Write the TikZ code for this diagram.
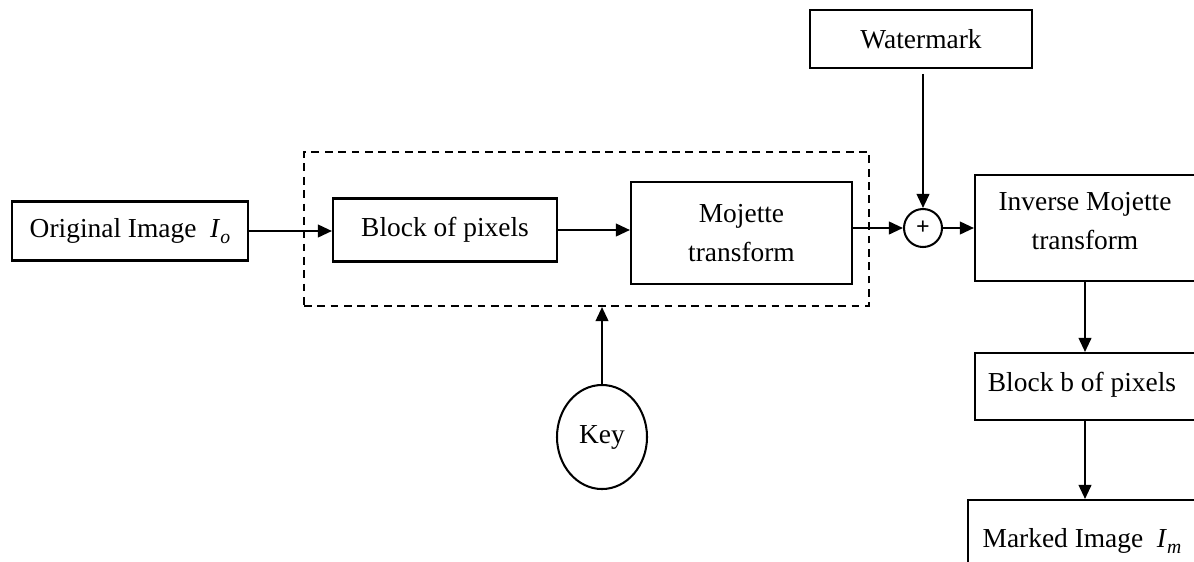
\documentclass[tikz,border=0pt]{standalone}
\usepackage{fontspec}
\setmainfont{Liberation Serif}
\usetikzlibrary{arrows.meta,shapes.geometric}
\newcommand{\mysub}[1]{\raisebox{-0.45ex}{\fontsize{14}{14}\selectfont\textit{#1}}}
\begin{document}
\begin{tikzpicture}[x=0.025cm,y=-0.025cm,
  line width=1.45pt,
  every node/.style={font=\fontsize{19.5}{28}\selectfont},
  box/.style={draw,rectangle,inner sep=0pt},
  arr/.style={-{Triangle[length=10pt,width=9pt]}},
  dashbox/.style={draw,rectangle,inner sep=0pt,dash pattern=on 5.5pt off 4pt}]
\useasboundingbox (0,0) rectangle (1194,561);
\clip (0,0) rectangle (1194,561);
\node[box,minimum width=5.9cm,minimum height=1.475cm] (orig) at (130,231) {Original Image\ \ \textit{I}\mysub{o}};
\node[dashbox,minimum width=14.125cm,minimum height=3.85cm] (grp) at (586.5,229) {};
\node[box,minimum width=5.6cm,minimum height=1.575cm] (block) at (445,230) {Block of pixels};
\node[box,minimum width=5.525cm,minimum height=2.55cm,align=center] (moj) at (741.5,233) {Mojette\\transform};
\node[draw,circle,minimum size=0.95cm,inner sep=0pt,font=\fontsize{17}{17}\selectfont\bfseries] (plus) at (923,228) {+};
\node[box,minimum width=5.55cm,minimum height=1.45cm] (wm) at (921,39) {Watermark};
\node[box,minimum width=5.875cm,minimum height=2.65cm] (inv) at (1092.5,228) {};
\node[align=center] (invtext) at (1085,221) {Inverse Mojette\\transform};
\node[box,minimum width=5.875cm,minimum height=1.675cm] (bb) at (1092.5,386.5) {};
\node (bbtext) at (1082,385) {Block b of pixels};
\node[box,minimum width=6.05cm,minimum height=2.5cm] (mk) at (1089,550) {};
\node (mktext) at (1082,541) {Marked Image\ \ \textit{I}\mysub{m}};
\node[draw,ellipse,minimum width=2.25cm,minimum height=2.6cm,inner sep=0pt] (key) at (602,437) {Key};
\draw[arr] (orig.east) -- (orig.east -| block.west);
\draw[arr] (block.east) -- (block.east -| moj.west);
\draw[arr] (moj.east |- plus) -- (plus.west);
\draw[arr,shorten <=3.5pt] (plus |- wm.south) -- (plus.north);
\draw[arr] (plus.east) -- (plus -| inv.west);
\draw[arr] (invtext |- inv.south) -- (invtext |- bb.north);
\draw[arr] (invtext |- bb.south) -- (invtext |- mk.north);
\draw[arr] (key.north) -- (key.north |- grp.south);
\end{tikzpicture}
\end{document}
